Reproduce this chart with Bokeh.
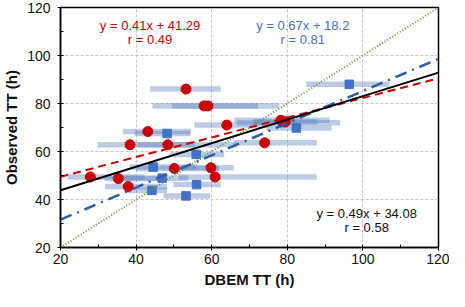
from bokeh.plotting import figure
from bokeh.models import ColumnDataSource, FixedTicker, Label, Range1d
from bokeh.embed import file_html
from bokeh.resources import INLINE

# ---- data ----
red_x = [53.2, 58.0, 59.0, 43.1, 38.4, 48.4, 64.0, 74.0, 78.3, 79.5, 27.9, 35.3, 37.9, 50.1, 59.8, 60.9]
red_y = [86.0, 79.0, 79.0, 68.3, 62.8, 62.8, 71.0, 63.6, 73.0, 72.4, 49.4, 48.7, 45.4, 52.9, 53.2, 49.4]
red_lo = [43.7, 44.3, 49.5, 36.5, 29.8, 40.4, 55.4, 65.8, 66.0, 71.0, 21.9, 31.7, 31.8, 40.0, 52.0, 51.2]
red_hi = [62.4, 77.9, 72.2, 54.5, 55.6, 66.7, 75.0, 87.8, 91.2, 88.0, 42.2, 48.0, 48.2, 62.0, 65.8, 87.8]

blue_x = [96.4, 82.4, 78.8, 48.2, 55.9, 44.5, 46.9, 44.2, 56.0, 53.2]
blue_y = [88.0, 69.8, 72.0, 67.5, 58.8, 53.5, 48.9, 43.8, 46.2, 41.5]
blue_lo = [85.0, 74.5, 66.7, 39.6, 49.0, 38.3, 34.0, 37.4, 49.9, 47.3]
blue_hi = [107.0, 91.7, 94.0, 54.3, 63.3, 56.0, 53.8, 48.2, 62.4, 59.6]

fit_names = ["red", "blue", "all"]
fit_slope = [0.41, 0.67, 0.49]
fit_intercept = [41.29, 18.2, 34.08]
fit_r = [0.49, 0.81, 0.58]

axis_ticks = [20, 40, 60, 80, 100, 120]
axis_minor = [30, 50, 70, 90, 110]
x_range_ends = [20, 120]

FONT = "Liberation Sans"
RED = "#cc0000"
BLUE = "#4472c4"

p = figure(width=449, height=291, x_range=Range1d(20, 120), y_range=Range1d(20, 120),
           output_backend="svg", toolbar_location=None,
           min_border_left=51, min_border_right=11, min_border_top=7, min_border_bottom=44)
p.outline_line_color = "black"
p.outline_line_width = 1.5
p.background_fill_color = "white"
p.border_fill_color = "white"

# grid
for g in (p.xgrid, p.ygrid):
    g.ticker = FixedTicker(ticks=axis_ticks)
    g.grid_line_color = "#c4c4c4"
    g.grid_line_dash = "3 2"
    g.grid_line_width = 1

# axes
for ax in (p.xaxis, p.yaxis):
    ax.ticker = FixedTicker(ticks=axis_ticks, minor_ticks=axis_minor)
    ax.axis_line_color = "black"
    ax.axis_line_width = 1.5
    ax.major_tick_in = 3
    ax.major_tick_out = 3
    ax.minor_tick_in = 3
    ax.minor_tick_out = 0
    ax.major_tick_line_color = "black"
    ax.minor_tick_line_color = "black"
    ax.major_label_text_font = FONT
    ax.major_label_text_font_size = "14px"
    ax.major_label_text_color = "#111111"
    ax.axis_label_text_font = FONT
    ax.axis_label_text_font_size = "15px"
    ax.axis_label_text_font_style = "bold"
    ax.axis_label_text_color = "#111111"
p.xaxis.axis_label = "DBEM TT (h)"
p.yaxis.axis_label = "Observed TT (h)"
p.xaxis.major_label_standoff = 3
p.yaxis.major_label_standoff = 7
p.xaxis.axis_label_standoff = 4
p.yaxis.axis_label_standoff = 4

# horizontal range bars
bar_src = ColumnDataSource(dict(lo=red_lo + blue_lo, hi=red_hi + blue_hi, y=red_y + blue_y))
p.segment(x0="lo", y0="y", x1="hi", y1="y", source=bar_src, line_width=5.5,
          line_color="#5b7fbf", line_alpha=0.4, line_cap="butt")

# markers
p.scatter(blue_x, blue_y, marker="square", size=8.5, fill_color=BLUE, line_color=BLUE)
p.scatter(red_x, red_y, marker="circle", size=10, fill_color=RED, line_color=RED)

# 1:1 line
p.line(x_range_ends, x_range_ends, line_color="#5f9a35", line_width=2, line_dash="1 2")

# fit lines
styles = {
    "red": dict(line_color=RED, line_width=2, line_dash="8 5"),
    "blue": dict(line_color="#2f5ea8", line_width=2.5, line_dash="12 6 2 6"),
    "all": dict(line_color="black", line_width=2),
}
for name, m, b in zip(fit_names, fit_slope, fit_intercept):
    ys = [m * x + b for x in x_range_ends]
    p.line(x_range_ends, ys, **styles[name])

# equation labels
label_pos = {"red": (43.7, 112.3, RED), "blue": (84.1, 112.3, BLUE), "all": (101.0, 34.2, "#111111")}
for name, m, b, r in zip(fit_names, fit_slope, fit_intercept, fit_r):
    lx, ly, col = label_pos[name]
    txt1 = f"y = {m:g}x + {b:g}"
    txt2 = f"r = {r:g}"
    for t, dy in ((txt1, 0.0), (txt2, -5.8)):
        p.add_layout(Label(x=lx, y=ly + dy, text=t, text_align="center", text_baseline="middle",
                           text_font=FONT, text_font_size="13px", text_color=col))

open("out.html", "w").write(file_html(p, INLINE))
